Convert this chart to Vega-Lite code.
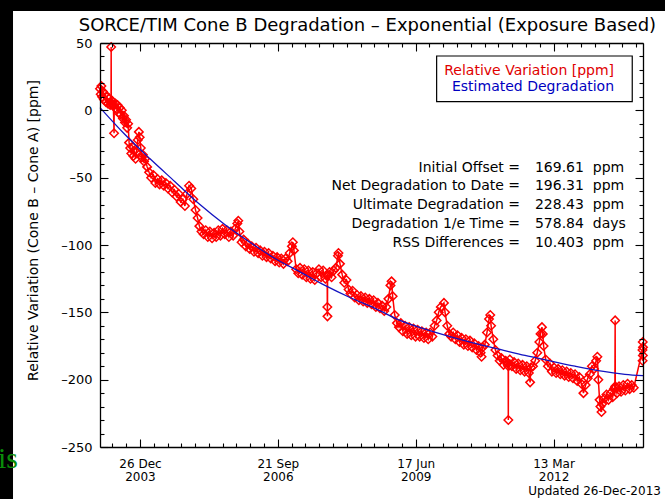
{
  "$schema": "https://vega.github.io/schema/vega-lite/v6.json",
  "width": 543,
  "height": 404,
  "autosize": {"type": "none"},
  "padding": {"left": 100, "top": 43, "right": 22, "bottom": 52},
  "background": "black",
  "config": {
    "view": {"stroke": null},
    "font": "DejaVu Sans",
    "axis": {
      "grid": false,
      "domainColor": "black",
      "domainWidth": 1.3,
      "tickColor": "black",
      "tickWidth": 1.1,
      "labelColor": "black",
      "labelFont": "DejaVu Sans",
      "labelFontSize": 13,
      "titleFont": "DejaVu Sans",
      "titleFontWeight": "normal",
      "titleColor": "black",
      "labelFlush": false,
      "labelOverlap": false,
      "labelBound": false
    }
  },
  "datasets": {
    "single": [{}],
    "measured": [
      {"date": "2003-03-11", "ppm": 16}, {"date": "2003-03-16", "ppm": 12}, {"date": "2003-03-21", "ppm": 18}, {"date": "2003-03-26", "ppm": 10},
      {"date": "2003-04-01", "ppm": 14}, {"date": "2003-04-08", "ppm": 8}, {"date": "2003-04-16", "ppm": 12}, {"date": "2003-04-24", "ppm": 6},
      {"date": "2003-05-01", "ppm": 10}, {"date": "2003-05-08", "ppm": 5}, {"date": "2003-05-16", "ppm": 9}, {"date": "2003-05-24", "ppm": 4},
      {"date": "2003-05-30", "ppm": 6}, {"date": "2003-05-31", "ppm": 47}, {"date": "2003-06-01", "ppm": 5}, {"date": "2003-06-08", "ppm": 7},
      {"date": "2003-06-16", "ppm": 3}, {"date": "2003-06-21", "ppm": -17}, {"date": "2003-06-22", "ppm": 4}, {"date": "2003-07-01", "ppm": 5},
      {"date": "2003-07-08", "ppm": 1}, {"date": "2003-07-16", "ppm": 4}, {"date": "2003-07-24", "ppm": -2}, {"date": "2003-08-01", "ppm": 2},
      {"date": "2003-08-08", "ppm": -3}, {"date": "2003-08-16", "ppm": 0}, {"date": "2003-08-24", "ppm": -6}, {"date": "2003-09-01", "ppm": -4},
      {"date": "2003-09-08", "ppm": -9}, {"date": "2003-09-16", "ppm": -7}, {"date": "2003-09-24", "ppm": -13}, {"date": "2003-10-01", "ppm": -10},
      {"date": "2003-10-08", "ppm": -24}, {"date": "2003-10-16", "ppm": -28}, {"date": "2003-10-24", "ppm": -32}, {"date": "2003-11-01", "ppm": -27},
      {"date": "2003-11-08", "ppm": -34}, {"date": "2003-11-16", "ppm": -30}, {"date": "2003-11-24", "ppm": -36}, {"date": "2003-12-01", "ppm": -31},
      {"date": "2003-12-10", "ppm": -22}, {"date": "2003-12-18", "ppm": -16}, {"date": "2003-12-24", "ppm": -20},
      {"date": "2004-01-01", "ppm": -28}, {"date": "2004-01-08", "ppm": -35}, {"date": "2004-01-16", "ppm": -33}, {"date": "2004-01-24", "ppm": -38},
      {"date": "2004-02-01", "ppm": -36}, {"date": "2004-02-16", "ppm": -42}, {"date": "2004-03-01", "ppm": -46}, {"date": "2004-03-16", "ppm": -50},
      {"date": "2004-04-01", "ppm": -48}, {"date": "2004-04-16", "ppm": -54}, {"date": "2004-05-01", "ppm": -51}, {"date": "2004-05-16", "ppm": -55},
      {"date": "2004-06-01", "ppm": -52}, {"date": "2004-06-16", "ppm": -56}, {"date": "2004-07-01", "ppm": -54}, {"date": "2004-07-16", "ppm": -58},
      {"date": "2004-08-01", "ppm": -56}, {"date": "2004-08-16", "ppm": -61}, {"date": "2004-09-01", "ppm": -59}, {"date": "2004-09-16", "ppm": -64},
      {"date": "2004-10-01", "ppm": -62}, {"date": "2004-10-16", "ppm": -68}, {"date": "2004-11-01", "ppm": -66}, {"date": "2004-11-16", "ppm": -71},
      {"date": "2004-12-01", "ppm": -62}, {"date": "2004-12-16", "ppm": -56},
      {"date": "2005-01-01", "ppm": -58}, {"date": "2005-01-16", "ppm": -66}, {"date": "2005-02-01", "ppm": -74}, {"date": "2005-02-16", "ppm": -80},
      {"date": "2005-03-01", "ppm": -86}, {"date": "2005-03-16", "ppm": -90}, {"date": "2005-04-01", "ppm": -92}, {"date": "2005-04-16", "ppm": -89},
      {"date": "2005-05-01", "ppm": -94}, {"date": "2005-05-16", "ppm": -90}, {"date": "2005-06-01", "ppm": -95}, {"date": "2005-06-16", "ppm": -91},
      {"date": "2005-07-01", "ppm": -94}, {"date": "2005-07-16", "ppm": -89}, {"date": "2005-08-01", "ppm": -93}, {"date": "2005-08-16", "ppm": -88},
      {"date": "2005-09-01", "ppm": -92}, {"date": "2005-09-16", "ppm": -89}, {"date": "2005-10-01", "ppm": -94}, {"date": "2005-10-16", "ppm": -90},
      {"date": "2005-11-01", "ppm": -93}, {"date": "2005-11-16", "ppm": -88}, {"date": "2005-12-01", "ppm": -84}, {"date": "2005-12-08", "ppm": -82},
      {"date": "2005-12-16", "ppm": -90},
      {"date": "2006-01-01", "ppm": -98}, {"date": "2006-01-16", "ppm": -96}, {"date": "2006-02-01", "ppm": -101}, {"date": "2006-02-16", "ppm": -99},
      {"date": "2006-03-01", "ppm": -103}, {"date": "2006-03-16", "ppm": -101}, {"date": "2006-04-01", "ppm": -105}, {"date": "2006-04-16", "ppm": -102},
      {"date": "2006-05-01", "ppm": -106}, {"date": "2006-05-16", "ppm": -104}, {"date": "2006-06-01", "ppm": -108}, {"date": "2006-06-16", "ppm": -105},
      {"date": "2006-07-01", "ppm": -109}, {"date": "2006-07-16", "ppm": -106}, {"date": "2006-08-01", "ppm": -110}, {"date": "2006-08-16", "ppm": -108},
      {"date": "2006-09-01", "ppm": -112}, {"date": "2006-09-16", "ppm": -109}, {"date": "2006-10-01", "ppm": -113}, {"date": "2006-10-16", "ppm": -110},
      {"date": "2006-11-01", "ppm": -114}, {"date": "2006-11-16", "ppm": -110}, {"date": "2006-12-01", "ppm": -112}, {"date": "2006-12-16", "ppm": -106},
      {"date": "2007-01-01", "ppm": -101}, {"date": "2007-01-08", "ppm": -98}, {"date": "2007-01-16", "ppm": -104}, {"date": "2007-02-01", "ppm": -118},
      {"date": "2007-02-16", "ppm": -121}, {"date": "2007-03-01", "ppm": -117}, {"date": "2007-03-16", "ppm": -122}, {"date": "2007-04-01", "ppm": -118},
      {"date": "2007-04-16", "ppm": -124}, {"date": "2007-05-01", "ppm": -119}, {"date": "2007-05-16", "ppm": -125}, {"date": "2007-06-01", "ppm": -120},
      {"date": "2007-06-16", "ppm": -126}, {"date": "2007-07-01", "ppm": -121}, {"date": "2007-07-16", "ppm": -118}, {"date": "2007-08-01", "ppm": -124},
      {"date": "2007-08-16", "ppm": -119}, {"date": "2007-09-01", "ppm": -125}, {"date": "2007-09-14", "ppm": -123}, {"date": "2007-09-15", "ppm": -146},
      {"date": "2007-09-16", "ppm": -153}, {"date": "2007-09-17", "ppm": -122}, {"date": "2007-10-01", "ppm": -120}, {"date": "2007-10-16", "ppm": -124},
      {"date": "2007-11-01", "ppm": -119}, {"date": "2007-11-16", "ppm": -117}, {"date": "2007-12-01", "ppm": -108}, {"date": "2007-12-05", "ppm": -106},
      {"date": "2007-12-16", "ppm": -114},
      {"date": "2008-01-01", "ppm": -122}, {"date": "2008-01-16", "ppm": -128}, {"date": "2008-02-01", "ppm": -126}, {"date": "2008-02-16", "ppm": -133},
      {"date": "2008-03-01", "ppm": -136}, {"date": "2008-03-16", "ppm": -134}, {"date": "2008-04-01", "ppm": -139}, {"date": "2008-04-16", "ppm": -137},
      {"date": "2008-05-01", "ppm": -141}, {"date": "2008-05-16", "ppm": -138}, {"date": "2008-06-01", "ppm": -142}, {"date": "2008-06-16", "ppm": -139},
      {"date": "2008-07-01", "ppm": -143}, {"date": "2008-07-16", "ppm": -140}, {"date": "2008-08-01", "ppm": -144}, {"date": "2008-08-16", "ppm": -141},
      {"date": "2008-09-01", "ppm": -146}, {"date": "2008-09-16", "ppm": -143}, {"date": "2008-10-01", "ppm": -147}, {"date": "2008-10-16", "ppm": -145},
      {"date": "2008-11-01", "ppm": -149}, {"date": "2008-11-16", "ppm": -146}, {"date": "2008-12-01", "ppm": -140}, {"date": "2008-12-16", "ppm": -130},
      {"date": "2008-12-24", "ppm": -127},
      {"date": "2009-01-01", "ppm": -138}, {"date": "2009-01-16", "ppm": -152}, {"date": "2009-02-01", "ppm": -158}, {"date": "2009-02-16", "ppm": -161},
      {"date": "2009-03-01", "ppm": -158}, {"date": "2009-03-16", "ppm": -164}, {"date": "2009-04-01", "ppm": -160}, {"date": "2009-04-16", "ppm": -166},
      {"date": "2009-05-01", "ppm": -161}, {"date": "2009-05-16", "ppm": -167}, {"date": "2009-06-01", "ppm": -162}, {"date": "2009-06-16", "ppm": -168},
      {"date": "2009-07-01", "ppm": -163}, {"date": "2009-07-16", "ppm": -168}, {"date": "2009-08-01", "ppm": -164}, {"date": "2009-08-16", "ppm": -169},
      {"date": "2009-09-01", "ppm": -165}, {"date": "2009-09-16", "ppm": -170}, {"date": "2009-10-01", "ppm": -165}, {"date": "2009-10-16", "ppm": -168},
      {"date": "2009-11-01", "ppm": -160}, {"date": "2009-11-16", "ppm": -156}, {"date": "2009-12-01", "ppm": -150}, {"date": "2009-12-16", "ppm": -146},
      {"date": "2010-01-08", "ppm": -143}, {"date": "2010-01-16", "ppm": -150}, {"date": "2010-02-01", "ppm": -160}, {"date": "2010-02-16", "ppm": -166},
      {"date": "2010-03-01", "ppm": -168}, {"date": "2010-03-16", "ppm": -165}, {"date": "2010-04-01", "ppm": -170}, {"date": "2010-04-16", "ppm": -167},
      {"date": "2010-05-01", "ppm": -172}, {"date": "2010-05-16", "ppm": -169}, {"date": "2010-06-01", "ppm": -174}, {"date": "2010-06-16", "ppm": -170},
      {"date": "2010-07-01", "ppm": -175}, {"date": "2010-07-16", "ppm": -171}, {"date": "2010-08-01", "ppm": -176}, {"date": "2010-08-16", "ppm": -173},
      {"date": "2010-09-01", "ppm": -178}, {"date": "2010-09-16", "ppm": -175}, {"date": "2010-10-01", "ppm": -180}, {"date": "2010-10-08", "ppm": -183},
      {"date": "2010-10-16", "ppm": -176}, {"date": "2010-11-01", "ppm": -174}, {"date": "2010-11-16", "ppm": -165}, {"date": "2010-12-01", "ppm": -155},
      {"date": "2010-12-10", "ppm": -152}, {"date": "2010-12-16", "ppm": -160},
      {"date": "2011-01-01", "ppm": -170}, {"date": "2011-01-16", "ppm": -178}, {"date": "2011-02-01", "ppm": -182}, {"date": "2011-02-16", "ppm": -186},
      {"date": "2011-03-01", "ppm": -184}, {"date": "2011-03-16", "ppm": -189}, {"date": "2011-04-01", "ppm": -186}, {"date": "2011-04-16", "ppm": -188},
      {"date": "2011-04-19", "ppm": -188}, {"date": "2011-04-20", "ppm": -230}, {"date": "2011-04-21", "ppm": -190}, {"date": "2011-05-01", "ppm": -185},
      {"date": "2011-05-16", "ppm": -190}, {"date": "2011-06-01", "ppm": -187}, {"date": "2011-06-16", "ppm": -192}, {"date": "2011-07-01", "ppm": -188},
      {"date": "2011-07-16", "ppm": -193}, {"date": "2011-08-01", "ppm": -189}, {"date": "2011-08-16", "ppm": -194}, {"date": "2011-09-01", "ppm": -190},
      {"date": "2011-09-16", "ppm": -195}, {"date": "2011-09-25", "ppm": -202}, {"date": "2011-10-01", "ppm": -191}, {"date": "2011-10-16", "ppm": -190},
      {"date": "2011-11-01", "ppm": -186}, {"date": "2011-11-16", "ppm": -180}, {"date": "2011-12-01", "ppm": -172}, {"date": "2011-12-10", "ppm": -166},
      {"date": "2011-12-20", "ppm": -161}, {"date": "2011-12-26", "ppm": -166},
      {"date": "2012-01-01", "ppm": -175}, {"date": "2012-01-16", "ppm": -185}, {"date": "2012-02-01", "ppm": -190}, {"date": "2012-02-16", "ppm": -188},
      {"date": "2012-03-01", "ppm": -194}, {"date": "2012-03-16", "ppm": -191}, {"date": "2012-04-01", "ppm": -195}, {"date": "2012-04-16", "ppm": -192},
      {"date": "2012-05-01", "ppm": -196}, {"date": "2012-05-16", "ppm": -193}, {"date": "2012-06-01", "ppm": -197}, {"date": "2012-06-16", "ppm": -194},
      {"date": "2012-07-01", "ppm": -198}, {"date": "2012-07-16", "ppm": -195}, {"date": "2012-08-01", "ppm": -199}, {"date": "2012-08-16", "ppm": -196},
      {"date": "2012-09-01", "ppm": -201}, {"date": "2012-09-16", "ppm": -198}, {"date": "2012-10-01", "ppm": -203}, {"date": "2012-10-16", "ppm": -210},
      {"date": "2012-11-01", "ppm": -204}, {"date": "2012-11-16", "ppm": -199}, {"date": "2012-12-01", "ppm": -196}, {"date": "2012-12-16", "ppm": -190},
      {"date": "2013-01-01", "ppm": -192}, {"date": "2013-01-16", "ppm": -186}, {"date": "2013-01-25", "ppm": -183}, {"date": "2013-02-01", "ppm": -200},
      {"date": "2013-02-10", "ppm": -215}, {"date": "2013-02-16", "ppm": -220}, {"date": "2013-02-24", "ppm": -224}, {"date": "2013-03-01", "ppm": -218},
      {"date": "2013-03-16", "ppm": -214}, {"date": "2013-04-01", "ppm": -211}, {"date": "2013-04-16", "ppm": -215}, {"date": "2013-05-01", "ppm": -210},
      {"date": "2013-05-16", "ppm": -213}, {"date": "2013-05-25", "ppm": -207}, {"date": "2013-06-01", "ppm": -206}, {"date": "2013-06-03", "ppm": -156},
      {"date": "2013-06-04", "ppm": -205}, {"date": "2013-06-16", "ppm": -210}, {"date": "2013-07-01", "ppm": -205}, {"date": "2013-07-16", "ppm": -209},
      {"date": "2013-08-01", "ppm": -204}, {"date": "2013-08-16", "ppm": -208}, {"date": "2013-09-01", "ppm": -203}, {"date": "2013-09-16", "ppm": -207},
      {"date": "2013-10-01", "ppm": -204}, {"date": "2013-10-16", "ppm": -206}, {"date": "2013-12-18", "ppm": -178}, {"date": "2013-12-19", "ppm": -186},
      {"date": "2013-12-20", "ppm": -172}, {"date": "2013-12-21", "ppm": -182}, {"date": "2013-12-22", "ppm": -176}
    ],
    "fit": [
      {"date": "2003-03-11", "ppm": 2}, {"date": "2003-09-08", "ppm": -18}, {"date": "2004-03-08", "ppm": -36},
      {"date": "2004-09-05", "ppm": -53}, {"date": "2005-03-05", "ppm": -70}, {"date": "2005-09-03", "ppm": -85},
      {"date": "2006-03-03", "ppm": -98}, {"date": "2006-08-31", "ppm": -110}, {"date": "2007-03-01", "ppm": -120},
      {"date": "2007-08-29", "ppm": -130}, {"date": "2008-02-26", "ppm": -139}, {"date": "2008-08-26", "ppm": -147},
      {"date": "2009-02-23", "ppm": -156}, {"date": "2009-08-24", "ppm": -162.5}, {"date": "2010-02-21", "ppm": -168},
      {"date": "2010-08-21", "ppm": -173}, {"date": "2011-02-19", "ppm": -177.5}, {"date": "2011-08-19", "ppm": -182},
      {"date": "2012-02-16", "ppm": -186}, {"date": "2012-08-16", "ppm": -190}, {"date": "2013-02-13", "ppm": -193.5},
      {"date": "2013-08-13", "ppm": -196}, {"date": "2013-12-22", "ppm": -197}
    ]
  },
  "layer": [
    {
      "data": {"name": "single"},
      "mark": {"type": "rect", "fill": "white", "zindex": 0},
      "encoding": {
        "x": {"datum": {"year": 2001, "month": 6, "date": 18, "utc": true}, "type": "temporal", "scale": {"type": "utc", "domain": [1047340800000, 1387670400000], "nice": false}, "axis": null},
        "x2": {"datum": {"year": 2015, "month": 6, "date": 1, "utc": true}},
        "y": {"datum": 73.8, "type": "quantitative", "scale": {"domain": [-250, 50], "nice": false, "zero": false}, "axis": null},
        "y2": {"datum": -300}
      }
    },
    {
      "data": {"name": "measured"},
      "mark": {
        "type": "line",
        "color": "#ff0000",
        "strokeWidth": 1.5,
        "zindex": 1,
        "point": {"shape": "diamond", "filled": false, "size": 72, "color": "#ff0000", "strokeWidth": 1.5, "zindex": 1}
      },
      "encoding": {
        "x": {
          "field": "date", "type": "temporal",
          "scale": {"type": "utc", "domain": [1047340800000, 1387670400000], "nice": false},
          "axis": {
            "orient": "bottom",
            "zindex": 3,
            "title": null,
            "values": [1055116800000, 1063756800000, 1072396800000, 1081036800000, 1089676800000, 1098316800000, 1106956800000, 1115596800000, 1124236800000, 1132876800000, 1141516800000, 1150156800000, 1158796800000, 1167436800000, 1176076800000, 1184716800000, 1193356800000, 1201996800000, 1210636800000, 1219276800000, 1227916800000, 1236556800000, 1245196800000, 1253836800000, 1262476800000, 1271116800000, 1279756800000, 1288396800000, 1297036800000, 1305676800000, 1314316800000, 1322956800000, 1331596800000, 1340236800000, 1348876800000, 1357516800000, 1366156800000, 1374796800000, 1383436800000],
            "tickSize": {"condition": {"test": "(datum.value - 1072396800000) % 86400000000 === 0", "value": -8}, "value": -4},
            "labelExpr": "(datum.value - 1072396800000) % 86400000000 === 0 ? [utcFormat(datum.value, '%d %b'), utcFormat(datum.value, '%Y')] : ''",
            "labelPadding": 19,
            "labelFontSize": 12,
            "labelBaseline": "top",
            "labelLineHeight": 13
          }
        },
        "y": {
          "field": "ppm", "type": "quantitative",
          "scale": {"domain": [-250, 50], "nice": false, "zero": false},
          "axis": {
            "orient": "left",
            "zindex": 3,
            "title": "Relative Variation (Cone B – Cone A) [ppm]",
            "titleFontSize": 14,
            "titleX": -60,
            "titleY": 187,
            "titleBaseline": "bottom",
            "values": [-250, -240, -230, -220, -210, -200, -190, -180, -170, -160, -150, -140, -130, -120, -110, -100, -90, -80, -70, -60, -50, -40, -30, -20, -10, 0, 10, 20, 30, 40, 50],
            "tickSize": {"condition": {"test": "datum.value % 50 === 0", "value": -8}, "value": -4},
            "labelExpr": "datum.value % 50 === 0 ? replace('' + datum.value, '-', '–') : ''",
            "labelPadding": 16
          }
        }
      }
    },
    {
      "data": {"name": "fit"},
      "mark": {"type": "line", "color": "#1414c0", "strokeWidth": 1.3, "interpolate": "monotone", "zindex": 2},
      "encoding": {
        "x": {
          "field": "date", "type": "temporal",
          "scale": {"type": "utc", "domain": [1047340800000, 1387670400000], "nice": false},
          "axis": {
            "orient": "top",
            "zindex": 3,
            "title": null,
            "labels": false,
            "values": [1055116800000, 1063756800000, 1072396800000, 1081036800000, 1089676800000, 1098316800000, 1106956800000, 1115596800000, 1124236800000, 1132876800000, 1141516800000, 1150156800000, 1158796800000, 1167436800000, 1176076800000, 1184716800000, 1193356800000, 1201996800000, 1210636800000, 1219276800000, 1227916800000, 1236556800000, 1245196800000, 1253836800000, 1262476800000, 1271116800000, 1279756800000, 1288396800000, 1297036800000, 1305676800000, 1314316800000, 1322956800000, 1331596800000, 1340236800000, 1348876800000, 1357516800000, 1366156800000, 1374796800000, 1383436800000],
            "tickSize": {"condition": {"test": "(datum.value - 1072396800000) % 86400000000 === 0", "value": -8}, "value": -4}
          }
        },
        "y": {
          "field": "ppm", "type": "quantitative",
          "scale": {"domain": [-250, 50], "nice": false, "zero": false},
          "axis": {
            "orient": "right",
            "zindex": 3,
            "title": null,
            "labels": false,
            "values": [-250, -240, -230, -220, -210, -200, -190, -180, -170, -160, -150, -140, -130, -120, -110, -100, -90, -80, -70, -60, -50, -40, -30, -20, -10, 0, 10, 20, 30, 40, 50],
            "tickSize": {"condition": {"test": "datum.value % 50 === 0", "value": -8}, "value": -4}
          }
        }
      }
    },
    {
      "data": {"name": "single"},
      "mark": {"type": "rect", "fill": "white", "stroke": "black", "strokeWidth": 1.2, "zindex": 2},
      "encoding": {
        "x": {"datum": {"year": 2009, "month": 11, "date": 16, "utc": true}, "type": "temporal", "scale": {"type": "utc", "domain": [1047340800000, 1387670400000], "nice": false}, "axis": null},
        "x2": {"datum": {"year": 2013, "month": 10, "date": 5, "utc": true}},
        "y": {"datum": 40.35, "type": "quantitative", "scale": {"domain": [-250, 50], "nice": false, "zero": false}, "axis": null},
        "y2": {"datum": 6.4}
      }
    },
    {
      "data": {"name": "single"},
      "mark": {"type": "text", "text": "Relative Variation [ppm]", "align": "right", "baseline": "middle", "fontSize": 14, "color": "#e00000", "font": "DejaVu Sans", "zindex": 2},
      "encoding": {
        "x": {"datum": {"year": 2013, "month": 5, "date": 26, "utc": true}, "type": "temporal", "scale": {"type": "utc", "domain": [1047340800000, 1387670400000], "nice": false}, "axis": null},
        "y": {"datum": 29.4, "type": "quantitative", "scale": {"domain": [-250, 50], "nice": false, "zero": false}, "axis": null}
      }
    },
    {
      "data": {"name": "single"},
      "mark": {"type": "text", "text": "Estimated Degradation", "align": "right", "baseline": "middle", "fontSize": 14, "color": "#0000c0", "font": "DejaVu Sans", "zindex": 2},
      "encoding": {
        "x": {"datum": {"year": 2013, "month": 5, "date": 26, "utc": true}, "type": "temporal", "scale": {"type": "utc", "domain": [1047340800000, 1387670400000], "nice": false}, "axis": null},
        "y": {"datum": 17.1, "type": "quantitative", "scale": {"domain": [-250, 50], "nice": false, "zero": false}, "axis": null}
      }
    },
    {
      "data": {"name": "single"},
      "mark": {
        "type": "text",
        "text": ["Initial Offset =", "Net Degradation to Date =", "Ultimate Degradation =", "Degradation 1/e Time =", "RSS Differences ="],
        "lineHeight": 18.8, "align": "right", "baseline": "middle", "fontSize": 14, "color": "black", "font": "DejaVu Sans", "zindex": 2
      },
      "encoding": {
        "x": {"datum": {"year": 2011, "month": 7, "date": 14, "utc": true}, "type": "temporal", "scale": {"type": "utc", "domain": [1047340800000, 1387670400000], "nice": false}, "axis": null},
        "y": {"datum": -42.46, "type": "quantitative", "scale": {"domain": [-250, 50], "nice": false, "zero": false}, "axis": null}
      }
    },
    {
      "data": {"name": "single"},
      "mark": {
        "type": "text",
        "text": ["169.61\u00a0 ppm", "196.31\u00a0 ppm", "228.43\u00a0 ppm", "578.84\u00a0 days", "10.403\u00a0 ppm"],
        "lineHeight": 18.8, "align": "left", "baseline": "middle", "fontSize": 14, "color": "black", "font": "DejaVu Sans", "zindex": 2
      },
      "encoding": {
        "x": {"datum": {"year": 2011, "month": 10, "date": 30, "utc": true}, "type": "temporal", "scale": {"type": "utc", "domain": [1047340800000, 1387670400000], "nice": false}, "axis": null},
        "y": {"datum": -42.46, "type": "quantitative", "scale": {"domain": [-250, 50], "nice": false, "zero": false}, "axis": null}
      }
    },
    {
      "data": {"name": "single"},
      "mark": {"type": "text", "text": "SORCE/TIM Cone B Degradation – Exponential (Exposure Based)", "align": "center", "baseline": "middle", "fontSize": 18, "color": "black", "font": "DejaVu Sans", "zindex": 2},
      "encoding": {
        "x": {"datum": {"year": 2008, "month": 7, "date": 2, "utc": true}, "type": "temporal", "scale": {"type": "utc", "domain": [1047340800000, 1387670400000], "nice": false}, "axis": null},
        "y": {"datum": 62.6, "type": "quantitative", "scale": {"domain": [-250, 50], "nice": false, "zero": false}, "axis": null}
      }
    },
    {
      "data": {"name": "single"},
      "mark": {"type": "text", "text": "Updated 26-Dec-2013", "align": "right", "baseline": "middle", "fontSize": 12, "color": "black", "font": "DejaVu Sans", "zindex": 2},
      "encoding": {
        "x": {"datum": {"year": 2014, "month": 5, "date": 1, "utc": true}, "type": "temporal", "scale": {"type": "utc", "domain": [1047340800000, 1387670400000], "nice": false}, "axis": null},
        "y": {"datum": -283, "type": "quantitative", "scale": {"domain": [-250, 50], "nice": false, "zero": false}, "axis": null}
      }
    },
    {
      "data": {"name": "single"},
      "mark": {"type": "text", "text": "is", "align": "left", "baseline": "alphabetic", "fontSize": 30, "color": "#0a8c0a", "font": "Liberation Serif", "zindex": 2},
      "encoding": {
        "x": {"datum": {"year": 2001, "month": 3, "date": 1, "utc": true}, "type": "temporal", "scale": {"type": "utc", "domain": [1047340800000, 1387670400000], "nice": false}, "axis": null},
        "y": {"datum": -265.6, "type": "quantitative", "scale": {"domain": [-250, 50], "nice": false, "zero": false}, "axis": null}
      }
    }
  ]
}
